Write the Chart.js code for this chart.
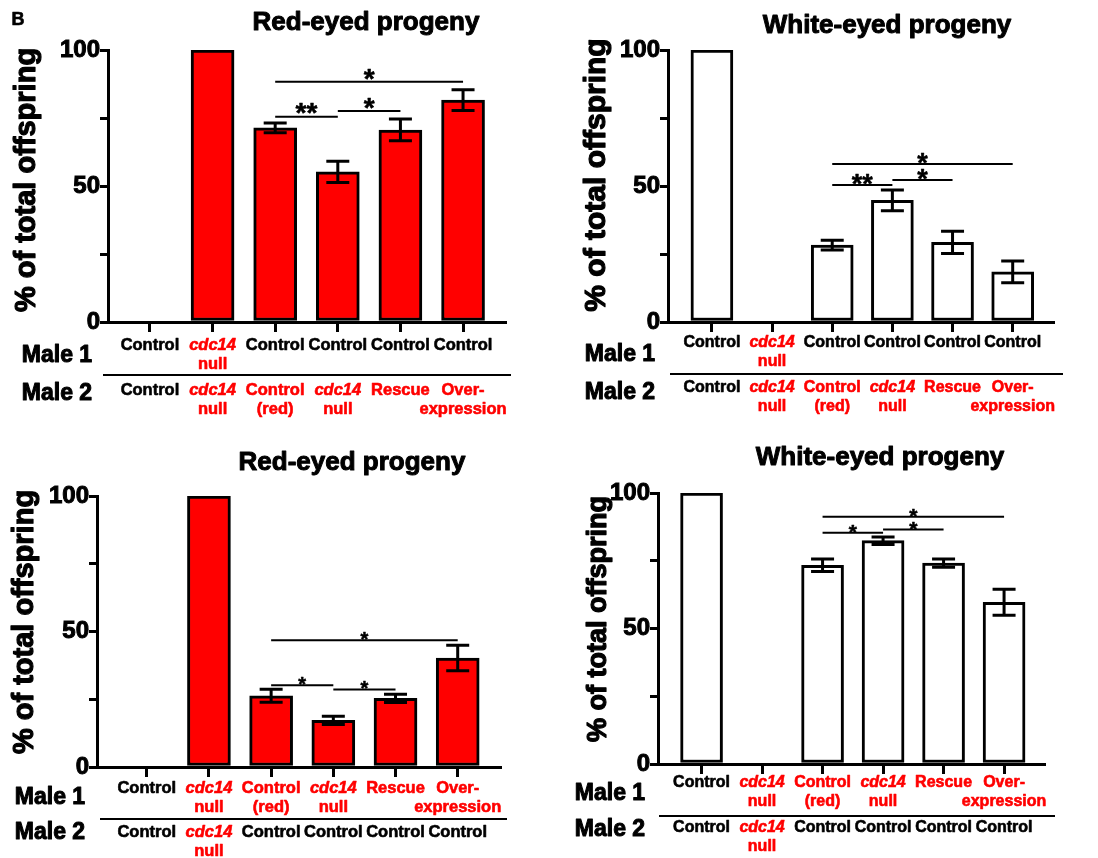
<!DOCTYPE html>
<html>
<head>
<meta charset="utf-8">
<title>Progeny of competing males</title>
<script src="https://cdn.jsdelivr.net/npm/chart.js@4.4.1/dist/chart.umd.min.js"></script>
<style>
  html, body { margin: 0; padding: 0; background: #ffffff; }
  #figure { position: relative; width: 1098px; height: 858px; overflow: hidden; background: #ffffff; }
  #figure canvas { position: absolute; }
</style>
</head>
<body>
<div id="figure">
  <canvas id="redTop" width="549" height="429" style="left:0px;top:0px"></canvas>
  <canvas id="whiteTop" width="549" height="429" style="left:549px;top:0px"></canvas>
  <canvas id="redBottom" width="549" height="429" style="left:0px;top:429px"></canvas>
  <canvas id="whiteBottom" width="549" height="429" style="left:549px;top:429px"></canvas>
</div>
<script>
// ---- Cross genotypes (one entry per bar, multi-line labels) ----
const male1Top = [['Control'], ['cdc14', 'null'], ['Control'], ['Control'], ['Control'], ['Control']];
const male2Top = [['Control'], ['cdc14', 'null'], ['Control', '(red)'], ['cdc14', 'null'], ['Rescue'], ['Over-', 'expression']];
const male1Bottom = [['Control'], ['cdc14', 'null'], ['Control', '(red)'], ['cdc14', 'null'], ['Rescue'], ['Over-', 'expression']];
const male2Bottom = [['Control'], ['cdc14', 'null'], ['Control'], ['Control'], ['Control'], ['Control']];

// ---- % of total offspring (mean) and error (SEM) ----
const redEyedTop = [0, 100, 71.4, 55.2, 70.6, 81.6];
const redEyedTopErr = [0, 0, 1.8, 3.9, 4.0, 3.8];
const whiteEyedTop = [100, 0, 28.3, 44.7, 29.3, 18.4];
const whiteEyedTopErr = [0, 0, 1.8, 3.8, 4.1, 4.0];
const redEyedBottom = [0, 100, 26.3, 17.2, 25.3, 40.2];
const redEyedBottomErr = [0, 0, 2.4, 1.5, 1.5, 4.7];
const whiteEyedBottom = [100, 0, 73.3, 82.4, 74.1, 59.7];
const whiteEyedBottomErr = [0, 0, 2.3, 1.4, 1.5, 4.8];

// ---- Pairwise comparisons: [bar A, bar B, significance] ----
const comparisonsRedTop = [[2, 3, '**'], [3, 4, '*'], [2, 5, '*']];
const comparisonsWhiteTop = [[2, 3, '**'], [3, 4, '*'], [2, 5, '*']];
const comparisonsRedBottom = [[2, 3, '*'], [3, 4, '*'], [2, 5, '*']];
const comparisonsWhiteBottom = [[2, 3, '*'], [3, 4, '*'], [2, 5, '*']];

// ---- Y axis ticks ----
const yTickValues = [0, 25, 50, 75, 100];
const yTickLabels = ['0', '', '50', '', '100'];

const yTitleText = '% of total offspring';
const rowNames = ['Male 1', 'Male 2'];

// ---- Styling ----
const INK = '#000000';
const RED = '#ff0000';
const WHITE = '#ffffff';
const FAMILY = '"Liberation Sans", Arial, Helvetica, sans-serif';
const CW = 549, CH = 429;      // canvas size of one panel
const YW = 60, XH = 12;        // fixed width of the y scale box / height of the x scale box
const CAP = 23;                // error bar cap width

// Panel geometry is given in page coordinates; ox/oy is the canvas origin.
const panels = [
  { id: 'redTop', ox: 0, oy: 0, letter: 'B', title: 'Red-eyed progeny', fill: RED,
    values: redEyedTop, errors: redEyedTopErr, male1: male1Top, male2: male2Top, comparisons: comparisonsRedTop,
    g: { axisX: 108, axisRight: 505, yTop: 50, yBottom: 322, xMin: -0.67, xMax: 5.67, barW: 43,
         titleX: 366, titleY: 30, yTitleX: 27, yTitleY: 180, yTitleSize: 29,
         row1Y: 345, row2Y: 390, rowGap: 19.5, labelSize: 16.5, maleX: 57, male1Y: 356, male2Y: 394,
         sepY: 375, sepX0: 103, sepX1: 511, bracketLevels: [75.5, 77.6, 88.3], starSize: 28, starLift: 10 } },
  { id: 'whiteTop', ox: 549, oy: 0, letter: '', title: 'White-eyed progeny', fill: WHITE,
    values: whiteEyedTop, errors: whiteEyedTopErr, male1: male1Top, male2: male2Top, comparisons: comparisonsWhiteTop,
    g: { axisX: 668, axisRight: 1053, yTop: 50, yBottom: 322, xMin: -0.73, xMax: 5.67, barW: 42,
         titleX: 887, titleY: 33, yTitleX: 597, yTitleY: 175, yTitleSize: 30,
         row1Y: 343, row2Y: 388, rowGap: 19, labelSize: 16, maleX: 620, male1Y: 355, male2Y: 393,
         sepY: 374, sepX0: 670, sepX1: 1063, bracketLevels: [50.4, 52.2, 58.1], starSize: 27, starLift: 7.5 } },
  { id: 'redBottom', ox: 0, oy: 429, letter: '', title: 'Red-eyed progeny', fill: RED,
    values: redEyedBottom, errors: redEyedBottomErr, male1: male1Bottom, male2: male2Bottom, comparisons: comparisonsRedBottom,
    g: { axisX: 97, axisRight: 500, yTop: 496, yBottom: 767, xMin: -0.8, xMax: 5.68, barW: 43,
         titleX: 352, titleY: 470, yTitleX: 25, yTitleY: 622, yTitleSize: 29,
         row1Y: 788, row2Y: 832, rowGap: 19, labelSize: 16.5, maleX: 50, male1Y: 798, male2Y: 833,
         sepY: 819, sepX0: 100, sepX1: 507, bracketLevels: [30.2, 28.6, 46.8], starSize: 20, starLift: 5.5 } },
  { id: 'whiteBottom', ox: 549, oy: 429, letter: '', title: 'White-eyed progeny', fill: WHITE,
    values: whiteEyedBottom, errors: whiteEyedBottomErr, male1: male1Bottom, male2: male2Bottom, comparisons: comparisonsWhiteBottom,
    g: { axisX: 658, axisRight: 1044, yTop: 493, yBottom: 764, xMin: -0.72, xMax: 5.66, barW: 42,
         titleX: 880, titleY: 465, yTitleX: 599, yTitleY: 619, yTitleSize: 27,
         row1Y: 783, row2Y: 828, rowGap: 18.5, labelSize: 16, maleX: 610, male1Y: 794, male2Y: 830,
         sepY: 816, sepX0: 659, sepX1: 1055, bracketLevels: [85.3, 86.5, 91.2], starSize: 21, starLift: 5.5 } }
];

// Heavy text: a thin outline in the fill colour on top of the fill.
function heavyText(ctx, text, x, y, weight) {
  ctx.save();
  ctx.lineWidth = weight;
  ctx.lineJoin = 'round';
  ctx.strokeStyle = ctx.fillStyle;
  ctx.fillText(text, x, y);
  ctx.strokeText(text, x, y);
  ctx.restore();
}

// Genotype rows under the x axis: plain "Control" in black, everything else in red,
// the gene name in italics.
function drawGenotypeRow(ctx, xs, rows, y, g) {
  ctx.textAlign = 'center';
  ctx.textBaseline = 'middle';
  rows.forEach((lines, i) => {
    const x = xs.getPixelForValue(i);
    const plain = lines.length === 1 && lines[0] === 'Control';
    ctx.fillStyle = plain ? INK : RED;
    lines.forEach((t, k) => {
      const italic = t.startsWith('cdc14');
      ctx.font = (italic ? 'italic ' : '') + 'bold ' + g.labelSize + 'px ' + FAMILY;
      heavyText(ctx, t, x, y + k * g.rowGap, 0.6);
    });
  });
}

function makeDecor(p) {
  const g = p.g, ox = p.ox, oy = p.oy;
  return {
    id: 'panelDecor',
    afterDatasetsDraw(chart) {
      const ctx = chart.ctx, xs = chart.scales.x, ys = chart.scales.y;
      ctx.save();
      // error bars (drawn both above and below the bar top)
      ctx.strokeStyle = INK;
      ctx.lineWidth = 3;
      ctx.lineCap = 'butt';
      p.values.forEach((v, i) => {
        const e = p.errors[i];
        if (!e) return;
        const x = xs.getPixelForValue(i);
        const yHi = ys.getPixelForValue(v + e);
        const yLo = ys.getPixelForValue(v - e);
        ctx.beginPath();
        ctx.moveTo(x, yHi); ctx.lineTo(x, yLo);
        ctx.moveTo(x - CAP / 2, yHi); ctx.lineTo(x + CAP / 2, yHi);
        ctx.moveTo(x - CAP / 2, yLo); ctx.lineTo(x + CAP / 2, yLo);
        ctx.stroke();
      });
      // significance lines and stars
      ctx.lineWidth = 2;
      ctx.fillStyle = INK;
      ctx.textAlign = 'center';
      ctx.textBaseline = 'alphabetic';
      ctx.font = 'bold ' + g.starSize + 'px ' + FAMILY;
      p.comparisons.forEach(([a, b, mark], k) => {
        const y = ys.getPixelForValue(g.bracketLevels[k]);
        const x0 = xs.getPixelForValue(a), x1 = xs.getPixelForValue(b);
        ctx.beginPath();
        ctx.moveTo(x0, y); ctx.lineTo(x1, y);
        ctx.stroke();
        heavyText(ctx, mark, (x0 + x1) / 2, y - g.starLift + 0.56 * g.starSize, 0.5);
      });
      ctx.restore();
    },
    afterDraw(chart) {
      const ctx = chart.ctx, xs = chart.scales.x;
      ctx.save();
      ctx.fillStyle = INK;
      // panel letter
      if (p.letter) {
        ctx.font = 'bold 18px ' + FAMILY;
        ctx.textAlign = 'center';
        ctx.textBaseline = 'middle';
        heavyText(ctx, p.letter, 18 - ox, 20 - oy, 0.6);
      }
      // title
      ctx.font = 'bold 26px ' + FAMILY;
      ctx.textAlign = 'center';
      ctx.textBaseline = 'alphabetic';
      heavyText(ctx, p.title, g.titleX - ox, g.titleY - oy, 1);
      // y axis title
      ctx.save();
      ctx.translate(g.yTitleX - ox, g.yTitleY - oy);
      ctx.rotate(-Math.PI / 2);
      ctx.font = 'bold ' + g.yTitleSize + 'px ' + FAMILY;
      ctx.textBaseline = 'middle';
      heavyText(ctx, yTitleText, 0, 0, 1.2);
      ctx.restore();
      // row names
      ctx.font = 'bold 23px ' + FAMILY;
      ctx.textAlign = 'center';
      ctx.textBaseline = 'middle';
      ctx.fillStyle = INK;
      heavyText(ctx, rowNames[0], g.maleX - ox, g.male1Y - oy, 1);
      heavyText(ctx, rowNames[1], g.maleX - ox, g.male2Y - oy, 1);
      // separator between the two genotype rows
      ctx.strokeStyle = INK;
      ctx.lineWidth = 2;
      ctx.beginPath();
      ctx.moveTo(g.sepX0 - ox, g.sepY - oy);
      ctx.lineTo(g.sepX1 - ox, g.sepY - oy);
      ctx.stroke();
      // genotype labels
      drawGenotypeRow(ctx, xs, p.male1, g.row1Y - oy, g);
      drawGenotypeRow(ctx, xs, p.male2, g.row2Y - oy, g);
      ctx.restore();
    }
  };
}

panels.forEach(p => {
  const g = p.g;
  new Chart(document.getElementById(p.id), {
    type: 'bar',
    data: {
      datasets: [{
        data: p.values.map((v, i) => ({ x: i, y: v })),
        backgroundColor: p.fill,
        borderColor: INK,
        borderWidth: 3,
        borderSkipped: false,
        barThickness: g.barW
      }]
    },
    options: {
      responsive: false,
      animation: false,
      devicePixelRatio: 1,
      events: [],
      layout: {
        autoPadding: false,
        padding: {
          left: g.axisX - p.ox - YW,
          right: CW - (g.axisRight - p.ox),
          top: g.yTop - p.oy,
          bottom: CH - (g.yBottom - p.oy) - XH
        }
      },
      plugins: {
        legend: { display: false },
        tooltip: { enabled: false },
        title: { display: false }
      },
      scales: {
        x: {
          type: 'linear',
          min: g.xMin,
          max: g.xMax,
          bounds: 'data',
          offset: false,
          grid: { display: true, offset: false, drawOnChartArea: false, drawTicks: true,
                  tickLength: 10, tickWidth: 3, tickColor: INK, color: INK, lineWidth: 3 },
          border: { display: true, color: INK, width: 3 },
          ticks: { display: false },
          afterBuildTicks: s => { s.ticks = p.values.map((_, i) => ({ value: i })); },
          afterFit: s => { s.height = XH; }
        },
        y: {
          type: 'linear',
          min: 0,
          max: 100,
          grid: { display: true, drawOnChartArea: false, drawTicks: true,
                  tickLength: 8, tickWidth: 3, tickColor: INK, color: INK, lineWidth: 3 },
          border: { display: true, color: INK, width: 3 },
          ticks: {
            color: INK,
            padding: 0,
            textStrokeColor: INK,
            textStrokeWidth: 1,
            font: { family: FAMILY, size: 24, weight: 'bold' },
            callback: v => { const k = yTickValues.indexOf(v); return k >= 0 ? yTickLabels[k] : ''; }
          },
          afterBuildTicks: s => { s.ticks = yTickValues.map(v => ({ value: v })); },
          afterFit: s => { s.width = YW; }
        }
      }
    },
    plugins: [makeDecor(p)]
  });
});
</script>
</body>
</html>
